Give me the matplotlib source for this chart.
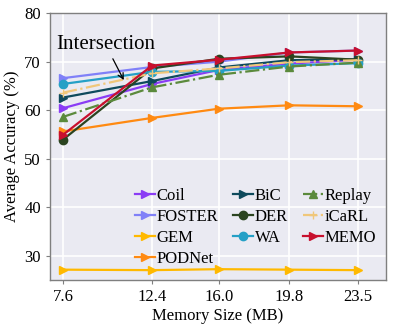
import numpy as np
import matplotlib
matplotlib.use("Agg")
import matplotlib.pyplot as plt

# memory sizes (MB)
mem = [7.6, 12.4, 16.0, 19.8, 23.5]

# average accuracy (%) per method
coil = [60.4, 65.4, 68.3, 69.6, 70.4]
foster = [66.6, 68.9, 70.0, 71.9, 72.3]
gem = [27.1, 27.0, 27.2, 27.1, 27.0]
podnet = [55.6, 58.4, 60.3, 61.0, 60.8]
bic = [62.6, 66.0, 68.8, 70.3, 70.5]
der = [53.9, 68.6, 70.6, 71.1, 70.4]
wa = [65.4, 67.9, 68.1, 69.2, 69.7]
replay = [58.6, 64.7, 67.3, 69.0, 69.8]
icarl = [63.6, 67.6, 68.6, 69.9, 70.3]
memo = [54.9, 69.2, 70.4, 71.9, 72.3]

plt.rcParams['font.family'] = ['Liberation Serif', 'DejaVu Serif']

fig = plt.figure(figsize=(3.93, 3.30), dpi=100)
ax = fig.add_axes([0.127, 0.152, 0.855, 0.808])
ax.set_facecolor('#eaeaf2')
ax.grid(True, color='white', linewidth=1.2)
ax.set_axisbelow(True)
for s in ax.spines.values():
    s.set_color('#7f7f7f')
    s.set_linewidth(1.0)

lw = 1.6
ms = 6
ax.plot(mem, coil, '-', marker='>', color='#8a3cf5', lw=lw, ms=ms, label='Coil')
ax.plot(mem, foster, '-', marker='>', color='#8080f8', lw=lw, ms=ms, label='FOSTER')
ax.plot(mem, gem, '-', marker='>', color='#ffb900', lw=lw, ms=ms, label='GEM')
ax.plot(mem, podnet, '-', marker='>', color='#ff8a12', lw=lw, ms=ms, label='PODNet')
ax.plot(mem, bic, '-', marker='>', color='#0e4a5c', lw=lw, ms=ms, label='BiC')
ax.plot(mem, der, '-', marker='o', color='#2b4420', lw=lw, ms=ms, label='DER')
ax.plot(mem, wa, '-', marker='o', color='#25a0c6', lw=lw, ms=ms, label='WA')
ax.plot(mem, replay, '-.', marker='^', color='#5b8a3c', lw=lw, ms=ms, label='Replay')
ax.plot(mem, icarl, '-.', marker='+', color='#f0c77a', lw=lw, ms=ms, label='iCaRL')
ax.plot(mem, memo, '-', marker='>', color='#c8102e', lw=lw, ms=ms, label='MEMO')

# annotation
ax.text(9.9, 73.5, 'Intersection', fontsize=15, ha='center', va='center')
ax.annotate('', xy=(10.88, 66.2), xytext=(10.29, 70.6),
            arrowprops=dict(arrowstyle='->', color='black', lw=0.9,
                            shrinkA=0, shrinkB=0))

ax.set_xlim(6.9, 25.0)
ax.set_ylim(25, 80)
ax.set_xticks(mem)
ax.set_xticklabels(['7.6', '12.4', '16.0', '19.8', '23.5'])
ax.set_yticks([30, 40, 50, 60, 70, 80])
ax.tick_params(axis='both', labelsize=12, colors='black', length=3,
               color='#7f7f7f')
ax.set_xlabel('Memory Size (MB)', fontsize=12, labelpad=2)
ax.set_ylabel('Average Accuracy (%)', fontsize=12, labelpad=3)

ax.legend(ncol=3, loc='lower right', bbox_to_anchor=(1.0, 0.01),
          frameon=False, fontsize=12, handlelength=1.2, handletextpad=0.1,
          columnspacing=0.9, labelspacing=0.3, borderaxespad=0.2)

fig.savefig('out.png', dpi=100)
